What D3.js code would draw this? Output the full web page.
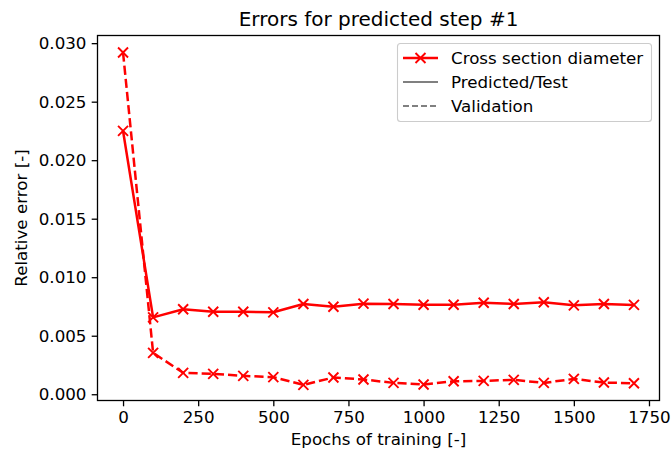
<!DOCTYPE html>
<html>
<head>
<meta charset="utf-8">
<script src="https://cdn.jsdelivr.net/npm/d3@7"></script>
<style>
  html, body { margin: 0; padding: 0; background: #fff; }
  svg { display: block; font-family: "DejaVu Sans", sans-serif; }
</style>
</head>
<body>
<svg id="chart" width="672" height="455"></svg>
<script>
// Training epochs at which the errors were evaluated
const epochs = [0, 100, 200, 300, 400, 500, 600, 700, 800, 900, 1000, 1100, 1200, 1300, 1400, 1500, 1600, 1700];
// Relative error of the cross section diameter, predicted/test set
const testError = [0.0225, 0.00657, 0.00726, 0.00705, 0.00705, 0.00700, 0.00771, 0.00748, 0.00774, 0.00771, 0.00765, 0.00765, 0.00782, 0.00771, 0.00786, 0.00760, 0.00771, 0.00763];
// Relative error of the cross section diameter, validation set
const validationError = [0.0292, 0.00354, 0.00183, 0.00174, 0.00157, 0.00146, 0.00080, 0.00143, 0.00126, 0.00097, 0.00083, 0.00111, 0.00114, 0.00123, 0.00097, 0.00131, 0.00100, 0.00094];
const xTicks = [0, 250, 500, 750, 1000, 1250, 1500, 1750];
const yTicks = [0.000, 0.005, 0.010, 0.015, 0.020, 0.025, 0.030];

const svg = d3.select("#chart");
const plotLeft = 97.5, plotRight = 659.5, plotTop = 35.5, plotBottom = 400.5;
const color = "#ff0000";
const fontSize = "16.7px";

const x = d3.scaleLinear().domain([-85, 1785]).range([plotLeft, plotRight]);
const y = d3.scaleLinear().domain([-0.000535, 0.030655]).range([plotBottom, plotTop]);

// Axes
const xAxis = d3.axisBottom(x).tickValues(xTicks).tickFormat(d3.format("d")).tickSize(5.8).tickPadding(5.2);
const yAxis = d3.axisLeft(y).tickValues(yTicks).tickFormat(d3.format(".3f")).tickSize(5.8).tickPadding(5.2);

const gx = svg.append("g").attr("transform", `translate(0,${plotBottom})`).call(xAxis);
const gy = svg.append("g").attr("transform", `translate(${plotLeft},0)`).call(yAxis);
[gx, gy].forEach(g => {
  g.select(".domain").remove();
  g.selectAll(".tick line").attr("stroke", "#000").attr("stroke-width", 1.3);
  g.selectAll(".tick text").attr("fill", "#000").style("font-size", fontSize).style("font-family", "DejaVu Sans, sans-serif");
});

// Frame
svg.append("rect")
  .attr("x", plotLeft).attr("y", plotTop)
  .attr("width", plotRight - plotLeft).attr("height", plotBottom - plotTop)
  .attr("fill", "none").attr("stroke", "#000").attr("stroke-width", 1.3);

// Series
const line = d3.line().x((d, i) => x(epochs[i])).y(d => y(d));
const plot = svg.append("g");

function drawSeries(values, dashed) {
  plot.append("path")
    .datum(values)
    .attr("d", line)
    .attr("fill", "none")
    .attr("stroke", color)
    .attr("stroke-width", 2.5)
    .attr("stroke-linejoin", "round")
    .attr("stroke-dasharray", dashed ? "9.2,4" : null);
  const s = 5;
  plot.append("g").selectAll("path")
    .data(values)
    .join("path")
    .attr("d", (d, i) => {
      const cx = x(epochs[i]), cy = y(d);
      return `M${cx - s},${cy - s}L${cx + s},${cy + s}M${cx - s},${cy + s}L${cx + s},${cy - s}`;
    })
    .attr("stroke", color)
    .attr("stroke-width", 1.9)
    .attr("fill", "none");
}
drawSeries(testError, false);
drawSeries(validationError, true);

// Title and labels
svg.append("text")
  .attr("x", (plotLeft + plotRight) / 2).attr("y", 26)
  .attr("text-anchor", "middle")
  .style("font-size", "20px")
  .text("Errors for predicted step #1");

svg.append("text")
  .attr("x", (plotLeft + plotRight) / 2).attr("y", 445)
  .attr("text-anchor", "middle")
  .style("font-size", fontSize)
  .text("Epochs of training [-]");

svg.append("text")
  .attr("transform", `translate(27,${(plotTop + plotBottom) / 2}) rotate(-90)`)
  .attr("text-anchor", "middle")
  .style("font-size", fontSize)
  .text("Relative error [-]");

// Legend
const legend = svg.append("g");
legend.append("rect")
  .attr("x", 397.5).attr("y", 43.5)
  .attr("width", 254).attr("height", 78)
  .attr("rx", 3)
  .attr("fill", "#fff").attr("fill-opacity", 0.8)
  .attr("stroke", "#cccccc").attr("stroke-width", 1.1);

const items = [
  { label: "Cross section diameter", stroke: color, dash: null, marker: true },
  { label: "Predicted/Test", stroke: "#808080", dash: null, marker: false },
  { label: "Validation", stroke: "#808080", dash: "6,3", marker: false }
];
items.forEach((it, i) => {
  const cy = 58 + i * 24;
  legend.append("line")
    .attr("x1", 403).attr("x2", 438).attr("y1", cy).attr("y2", cy)
    .attr("stroke", it.stroke).attr("stroke-width", it.marker ? 2.5 : 1.8)
    .attr("stroke-dasharray", it.dash);
  if (it.marker) {
    const s = 5, cx = 420.5;
    legend.append("path")
      .attr("d", `M${cx - s},${cy - s}L${cx + s},${cy + s}M${cx - s},${cy + s}L${cx + s},${cy - s}`)
      .attr("stroke", color).attr("stroke-width", 1.9);
  }
  legend.append("text")
    .attr("x", 451).attr("y", cy + 6)
    .style("font-size", fontSize)
    .text(it.label);
});
</script>
</body>
</html>
